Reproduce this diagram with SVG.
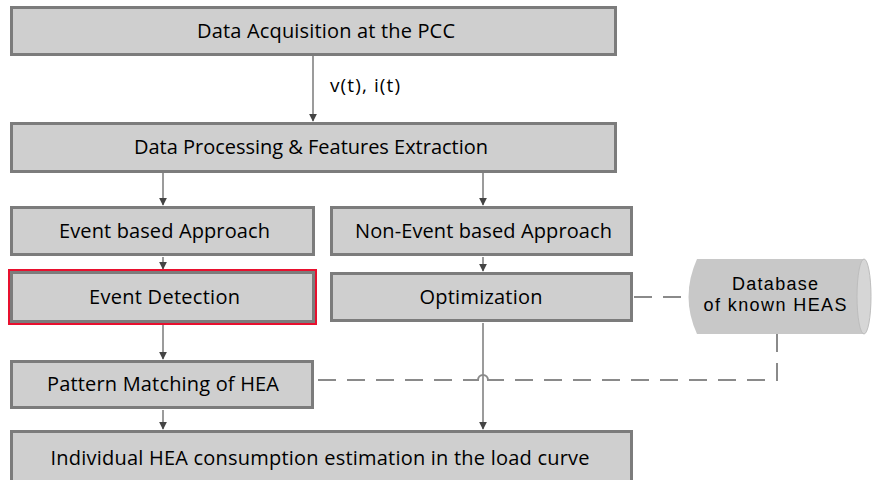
<svg xmlns="http://www.w3.org/2000/svg" width="872" height="480" viewBox="0 0 872 480">
<defs>
<style>
.box{fill:#cfcfcf;stroke:#7c7c7c;stroke-width:3}
.lbl{font-family:"Open Sans","Noto Sans",sans-serif;font-size:20px;fill:#000;text-anchor:middle}
.dbl{font-family:"Liberation Sans",Arial,sans-serif;font-size:18px;fill:#000;text-anchor:middle}
.edge{fill:none;stroke:#7a7a7a;stroke-width:1.5}
.dash{fill:none;stroke:#8a8a8a;stroke-width:2;stroke-dasharray:18 11}
</style>
<marker id="ah" viewBox="0 0 10 10" refX="9" refY="5" markerWidth="8" markerHeight="8" markerUnits="userSpaceOnUse" orient="auto">
<path d="M0,0 L10,5 L0,10 Z" fill="#444"/>
</marker>
</defs>
<rect width="872" height="480" fill="#fff"/>
<g id="connectors">
<line class="edge" x1="313" y1="56" x2="313" y2="121" marker-end="url(#ah)"/>
<line class="edge" x1="163" y1="173" x2="163" y2="205" marker-end="url(#ah)"/>
<line class="edge" x1="483" y1="173" x2="483" y2="205" marker-end="url(#ah)"/>
<line class="edge" x1="163" y1="257" x2="163" y2="269" marker-end="url(#ah)"/>
<line class="edge" x1="483" y1="257" x2="483" y2="271" marker-end="url(#ah)"/>
<line class="edge" x1="163" y1="325" x2="163" y2="359" marker-end="url(#ah)"/>
<line class="edge" x1="163" y1="410" x2="163" y2="429" marker-end="url(#ah)"/>
<line class="edge" x1="483" y1="323" x2="483" y2="429" marker-end="url(#ah)"/>
<line class="dash" x1="634" y1="297" x2="688" y2="297"/>
<path class="dash" d="M777,334 V380 H491"/>
<path fill="none" stroke="#8a8a8a" stroke-width="2" d="M475,380 H478 A5,5 0 0 1 488,380 H491"/>
<path class="dash" d="M475,380 H315" style="stroke-dashoffset:6"/>
<text x="330" y="92" font-family="Open Sans, Noto Sans, sans-serif" font-size="19" fill="#000" textLength="70">v(t), i(t)</text>
</g>
<g id="n1"><rect class="box" x="11.5" y="7.5" width="604" height="47"/><text class="lbl" x="326" y="38" textLength="258">Data Acquisition at the PCC</text></g>
<g id="n2"><rect class="box" x="11.5" y="123.5" width="604" height="48"/><text class="lbl" x="311" y="154" textLength="354">Data Processing &amp; Features Extraction</text></g>
<g id="n3"><rect class="box" x="11.5" y="207.5" width="302" height="47"/><text class="lbl" x="164.5" y="238" textLength="211">Event based Approach</text></g>
<g id="n4"><rect class="box" x="331.5" y="207.5" width="300" height="47"/><text class="lbl" x="483.5" y="238" textLength="257">Non-Event based Approach</text></g>
<g id="n5"><rect x="9" y="270" width="307" height="54" fill="none" stroke="#e8102e" stroke-width="2"/><rect class="box" x="11.5" y="272.5" width="302" height="49"/><text class="lbl" x="164.5" y="304" textLength="151">Event Detection</text></g>
<g id="n6"><rect class="box" x="331.5" y="273.5" width="300" height="47"/><text class="lbl" x="481" y="304" textLength="123">Optimization</text></g>
<g id="n7"><rect class="box" x="11.5" y="361.5" width="301" height="46"/><text class="lbl" x="163" y="391" textLength="232">Pattern Matching of HEA</text></g>
<g id="n8"><rect class="box" x="11.5" y="431.5" width="620" height="52"/><text class="lbl" x="320" y="465" textLength="539">Individual HEA consumption estimation in the load curve</text></g>
<g id="db">
<path d="M697,259 H864 V334 H697 Q680,297 697,259 Z" fill="#c8c8c8"/>
<ellipse cx="864" cy="296.5" rx="7" ry="37.5" fill="#d6d6d6" stroke="#bdbdbd" stroke-width="1"/>
<text class="dbl" x="775" y="290" textLength="86">Database</text>
<text class="dbl" x="775" y="311" textLength="143">of known HEAS</text>
</g>
</svg>
